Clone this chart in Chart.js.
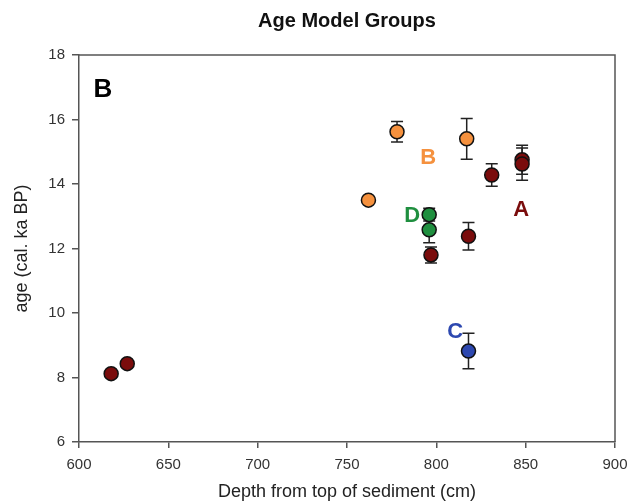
<!DOCTYPE html>
<html>
<head>
<meta charset="utf-8">
<script src="https://cdn.jsdelivr.net/npm/chart.js@4"></script>
<style>
  html, body { margin: 0; padding: 0; background: #fff; }
  #wrap { width: 639px; height: 504px; }
</style>
</head>
<body>
<div id="wrap"><canvas id="ageChart" width="639" height="504"></canvas></div>
<script>
// age model groups: depth (cm), age (cal. ka BP), error (ka)
const depthA = [618, 627, 797, 818, 831, 848, 848];
const ageA = [8.12, 8.43, 11.8, 12.38, 14.28, 14.75, 14.62];
const errA = [0, 0, 0.25, 0.43, 0.35, 0.45, 0.5];

const depthB = [762, 778, 817];
const ageB = [13.5, 15.62, 15.4];
const errB = [0, 0.32, 0.63];

const depthC = [818];
const ageC = [8.82];
const errC = [0.55];

const depthD = [796, 796];
const ageD = [13.05, 12.58];
const errD = [0.2, 0.4];

// group labels drawn in data coordinates
const groupNames = ['A', 'B', 'C', 'D'];
const groupLabelDepth = [847.5, 795.5, 810.5, 786.5];
const groupLabelAge = [13.2, 14.8, 9.4, 13.0];
const groupColors = ['#7a0c0c', '#f5913e', '#2d48b0', '#1f8f3f'];

const xTicks = [600, 650, 700, 750, 800, 850, 900];
const yTicks = [6, 8, 10, 12, 14, 16, 18];

const FONT = '"Liberation Sans", Arial, sans-serif';

function points(xs, ys, es) {
    return xs.map((x, i) => ({ x: x, y: ys[i], err: es[i] }));
}

// error bars under the markers
const errorBars = {
    id: 'errorBars',
    beforeDatasetsDraw(chart) {
        const ctx = chart.ctx;
        const xs = chart.scales.x, ys = chart.scales.y;
        ctx.save();
        ctx.strokeStyle = '#222';
        ctx.lineWidth = 1.5;
        chart.data.datasets.forEach(ds => {
            ds.data.forEach(p => {
                if (!p.err) return;
                const px = xs.getPixelForValue(p.x);
                const top = ys.getPixelForValue(p.y + p.err);
                const bot = ys.getPixelForValue(p.y - p.err);
                ctx.beginPath();
                ctx.moveTo(px, top); ctx.lineTo(px, bot);
                ctx.moveTo(px - 6, top); ctx.lineTo(px + 6, top);
                ctx.moveTo(px - 6, bot); ctx.lineTo(px + 6, bot);
                ctx.stroke();
            });
        });
        ctx.restore();
    }
};

// title, frame, group letters and panel label
const annotations = {
    id: 'annotations',
    afterDraw(chart) {
        const ctx = chart.ctx;
        const a = chart.chartArea;
        const xs = chart.scales.x, ys = chart.scales.y;
        ctx.save();
        ctx.strokeStyle = '#555';
        ctx.lineWidth = 1.5;
        ctx.beginPath();
        ctx.moveTo(a.left, a.top); ctx.lineTo(a.right, a.top);
        ctx.lineTo(a.right, a.bottom);
        ctx.stroke();

        ctx.textAlign = 'center';
        ctx.textBaseline = 'middle';
        ctx.fillStyle = '#111';
        ctx.font = 'bold 20px ' + FONT;
        ctx.fillText('Age Model Groups', (a.left + a.right) / 2, 21);

        ctx.font = 'bold 22px ' + FONT;
        groupNames.forEach((n, i) => {
            ctx.fillStyle = groupColors[i];
            ctx.fillText(n, xs.getPixelForValue(groupLabelDepth[i]), ys.getPixelForValue(groupLabelAge[i]));
        });
        ctx.fillStyle = '#000';
        ctx.font = 'bold 26px ' + FONT;
        ctx.fillText('B', a.left + 24, a.top + 35);
        ctx.restore();
    }
};

function makeSet(label, data, color) {
    return {
        label: label,
        data: data,
        backgroundColor: color,
        borderColor: '#111',
        borderWidth: 1.5,
        pointRadius: 7,
        pointHoverRadius: 7
    };
}

const ctx = document.getElementById('ageChart').getContext('2d');
new Chart(ctx, {
    type: 'scatter',
    data: {
        datasets: [
            makeSet('A', points(depthA, ageA, errA), groupColors[0]),
            makeSet('B', points(depthB, ageB, errB), groupColors[1]),
            makeSet('C', points(depthC, ageC, errC), groupColors[2]),
            makeSet('D', points(depthD, ageD, errD), groupColors[3])
        ]
    },
    options: {
        responsive: false,
        animation: false,
        layout: { padding: { left: 0, right: 24, top: 55, bottom: 0 } },
        plugins: {
            legend: { display: false },
            tooltip: { enabled: false },
            title: { display: false }
        },
        scales: {
            x: {
                type: 'linear',
                min: 600,
                max: 900,
                afterBuildTicks: s => { s.ticks = xTicks.map(v => ({ value: v })); },
                afterFit: s => { s.height = 62; },
                grid: { drawOnChartArea: false, drawTicks: true, tickLength: 6, color: '#555', lineWidth: 1.5 },
                border: { display: true, color: '#555', width: 1.5 },
                ticks: { color: '#333', padding: 8, font: { family: FONT, size: 15 } },
                title: {
                    display: true,
                    text: 'Depth from top of sediment (cm)',
                    color: '#222',
                    font: { family: FONT, size: 18 },
                    padding: { top: 4, bottom: 1 }
                }
            },
            y: {
                type: 'linear',
                min: 6,
                max: 18,
                afterBuildTicks: s => { s.ticks = yTicks.map(v => ({ value: v })); },
                afterFit: s => { s.width = 79; },
                grid: { drawOnChartArea: false, drawTicks: true, tickLength: 7, color: '#555', lineWidth: 1.5 },
                border: { display: true, color: '#555', width: 1.5 },
                ticks: { color: '#333', padding: 7, font: { family: FONT, size: 15 } },
                title: {
                    display: true,
                    text: 'age (cal. ka BP)',
                    color: '#222',
                    font: { family: FONT, size: 18 },
                    padding: { top: 11, bottom: 4 }
                }
            }
        }
    },
    plugins: [errorBars, annotations]
});
</script>
</body>
</html>
